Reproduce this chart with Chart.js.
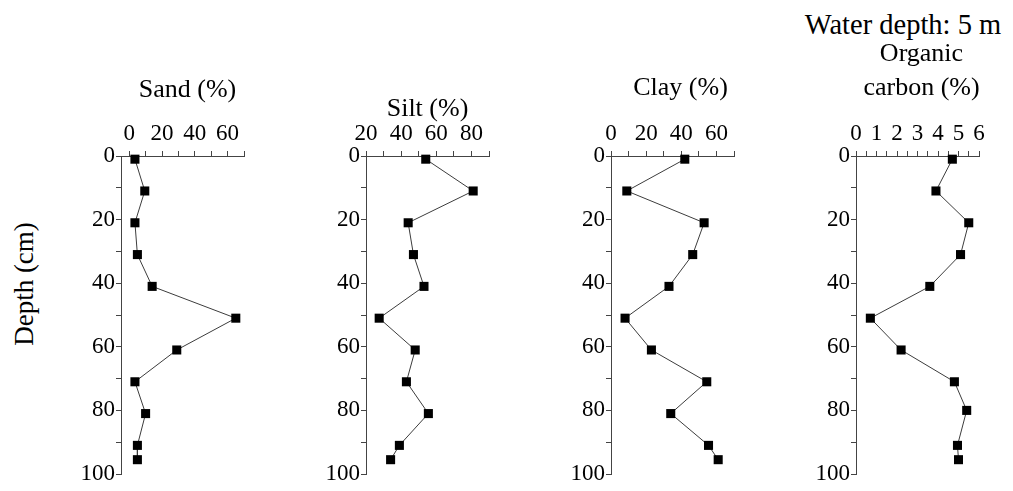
<!DOCTYPE html>
<html>
<head>
<meta charset="utf-8">
<title>Sediment core profiles</title>
<script src="https://cdn.jsdelivr.net/npm/chart.js@4/dist/chart.umd.min.js"></script>
<style>
  html, body { margin: 0; padding: 0; background: #fff; width: 1013px; height: 491px; overflow: hidden; }
  canvas { position: absolute; top: 0; }
  .txt { position: absolute; font-family: "Liberation Serif", "Times New Roman", serif; color: #000; white-space: nowrap; line-height: 1; }
</style>
</head>
<body>
<div class="txt" id="depthTitle" style="left:24px; top:284px; font-size:27px; transform: translate(-50%, -50%) rotate(-90deg);">Depth (cm)</div>
<div class="txt" id="siteTitle" style="left:903px; top:11px; font-size:28.5px; line-height:28px; transform: translateX(-50%);">Water depth: 5 m</div>
<canvas id="sand" width="245" height="491" style="left:61px"></canvas>
<canvas id="silt" width="245" height="491" style="left:306px"></canvas>
<canvas id="clay" width="245" height="491" style="left:551px"></canvas>
<canvas id="oc" width="217" height="491" style="left:796px"></canvas>
<script>
// Sample depths (cm) in the core
const depths   = [1, 11, 21, 31, 41, 51, 61, 71, 81, 91, 95.5];
const depthsOC = [1, 11, 21, 31, 41, 51, 61, 71, 80, 91, 95.5];

// Measured profiles
const sand = [3.5, 9.5, 3.5, 5, 14, 65, 29, 3.5, 10, 5, 5];
const silt = [54, 81, 44, 47, 53, 27.5, 48, 43, 55.5, 39, 34];
const clay = [42, 9, 53, 46.5, 33, 8, 23, 54.5, 34, 55.5, 61];
const organicCarbon = [4.7, 3.9, 5.5, 5.1, 3.6, 0.7, 2.2, 4.8, 5.4, 4.95, 5.0];

// Tick positions (labelled ones are listed separately)
const depthTicks = [0, 10, 20, 30, 40, 50, 60, 70, 80, 90, 100];
const depthLabels = [0, 20, 40, 60, 80, 100];
const sandTicks = [0, 10, 20, 30, 40, 50, 60, 70];
const sandLabels = [0, 20, 40, 60];
const siltTicks = [20, 30, 40, 50, 60, 70, 80, 90];
const siltLabels = [20, 40, 60, 80];
const clayTicks = [0, 10, 20, 30, 40, 50, 60, 70];
const clayLabels = [0, 20, 40, 60];
const ocTicks = [0, 0.5, 1, 1.5, 2, 2.5, 3, 3.5, 4, 4.5, 5, 5.5, 6];
const ocLabels = [0, 1, 2, 3, 4, 5, 6];

const FONT = '"Liberation Serif", "Times New Roman", serif';
const AXIS = '#444';

// Panel heading drawn above the top axis, centred on the plot area with a small offset
const headingPlugin = {
  id: 'heading',
  afterDraw(chart, args, o) {
    if (!o || !o.lines) return;
    const { ctx, chartArea } = chart;
    const x = (chartArea.left + chartArea.right) / 2 + (o.dx || 0);
    ctx.save();
    ctx.font = '26px ' + FONT;
    ctx.fillStyle = '#000';
    ctx.textAlign = 'center';
    ctx.textBaseline = 'alphabetic';
    o.lines.forEach((t, i) => ctx.fillText(t, x, o.baseline + i * o.gap));
    ctx.restore();
  }
};

function panel(id, opts) {
  const canvas = document.getElementById(id);
  const rightPad = canvas.width - 60 - 123;
  return new Chart(canvas, {
    type: 'scatter',
    plugins: [headingPlugin],
    data: {
      datasets: [{
        data: opts.values.map((v, i) => ({ x: v, y: opts.depths[i] })),
        showLine: true,
        borderColor: '#3c3c3c',
        borderWidth: 1,
        tension: 0,
        pointStyle: 'rect',
        pointRadius: 6.4,
        pointHoverRadius: 6.4,
        pointBackgroundColor: '#000',
        pointBorderColor: '#000',
        pointBorderWidth: 0,
        clip: false
      }]
    },
    options: {
      responsive: false,
      animation: false,
      events: [],
      layout: { padding: { top: 0, left: 0, right: rightPad, bottom: 17 } },
      plugins: {
        legend: { display: false },
        tooltip: { enabled: false },
        heading: { lines: opts.title, dx: opts.dx, baseline: opts.baseline, gap: 34 }
      },
      scales: {
        x: {
          type: 'linear',
          position: 'top',
          min: opts.min,
          max: opts.max,
          afterBuildTicks: s => { s.ticks = opts.ticks.map(v => ({ value: v })); },
          afterFit: s => { s.height = 156; },
          ticks: {
            autoSkip: false,
            maxRotation: 0,
            padding: 3,
            color: '#000',
            font: { family: FONT, size: 23 },
            callback: v => (opts.labels.includes(v) ? String(v) : '')
          },
          grid: { drawOnChartArea: false, drawTicks: true, tickLength: 5, tickColor: AXIS },
          border: { display: true, color: AXIS, width: 1 }
        },
        y: {
          type: 'linear',
          reverse: true,
          min: 0,
          max: 100,
          afterBuildTicks: s => { s.ticks = depthTicks.map(v => ({ value: v })); },
          afterFit: s => { s.width = 60; },
          ticks: {
            autoSkip: false,
            padding: 1,
            color: '#000',
            font: { family: FONT, size: 23 },
            callback: v => (depthLabels.includes(v) ? String(v) : '')
          },
          grid: { drawOnChartArea: false, drawTicks: true, tickLength: 5, tickColor: AXIS },
          border: { display: true, color: AXIS, width: 1 }
        }
      }
    }
  });
}

panel('sand', { title: ['Sand (%)'], dx: 5, baseline: 97, values: sand, depths: depths, min: -5, max: 70, ticks: sandTicks, labels: sandLabels });
panel('silt', { title: ['Silt (%)'], dx: 0, baseline: 116, values: silt, depths: depths, min: 20, max: 90, ticks: siltTicks, labels: siltLabels });
panel('clay', { title: ['Clay (%)'], dx: 8, baseline: 95, values: clay, depths: depths, min: 0, max: 70, ticks: clayTicks, labels: clayLabels });
panel('oc', { title: ['Organic', 'carbon (%)'], dx: 4, baseline: 61, values: organicCarbon, depths: depthsOC, min: 0, max: 6, ticks: ocTicks, labels: ocLabels });
</script>
</body>
</html>
